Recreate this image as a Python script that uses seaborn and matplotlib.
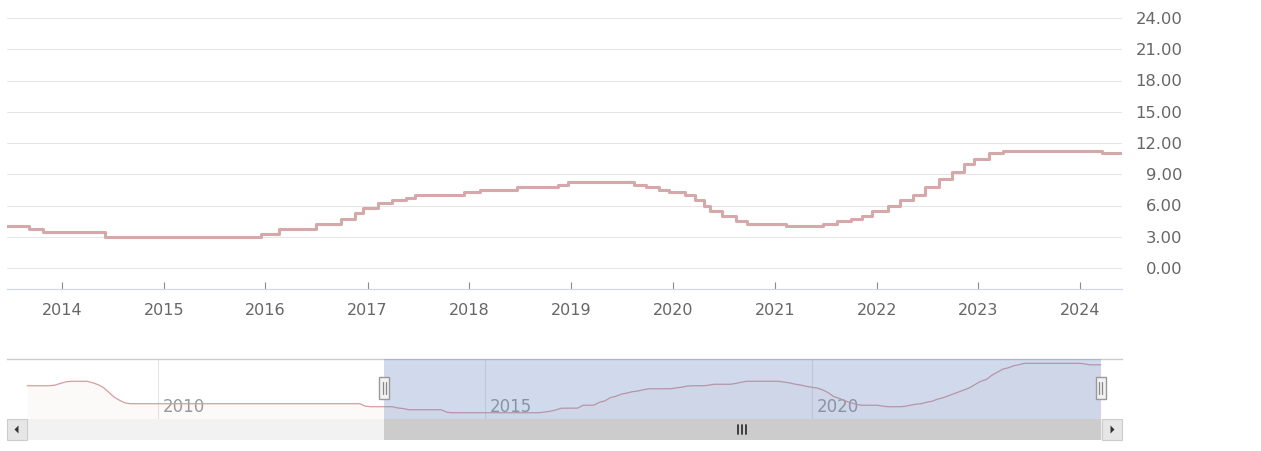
import numpy as np
import pandas as pd
import matplotlib
matplotlib.use("Agg")
import matplotlib.pyplot as plt
import matplotlib.dates as mdates
import matplotlib.transforms as mtrans
from matplotlib.patches import Rectangle, Polygon
import seaborn as sns

# ---------------- data (policy rate, % ; step changes) ----------------
change_dates = [
    "2008-01-01", "2008-06-20", "2008-07-18", "2008-08-15", "2009-01-16",
    "2009-02-20", "2009-03-20", "2009-04-17", "2009-05-15", "2009-06-19",
    "2009-07-17", "2013-03-08", "2013-09-06", "2013-10-25", "2014-06-06",
    "2015-12-17", "2016-02-17", "2016-06-30", "2016-09-29", "2016-11-17",
    "2016-12-15", "2017-02-09", "2017-03-30", "2017-05-18", "2017-06-22",
    "2017-12-14", "2018-02-08", "2018-06-21", "2018-11-15", "2018-12-20",
    "2019-08-15", "2019-09-26", "2019-11-14", "2019-12-19", "2020-02-13",
    "2020-03-20", "2020-04-21", "2020-05-14", "2020-06-25", "2020-08-13",
    "2020-09-24", "2021-02-11", "2021-06-24", "2021-08-12", "2021-09-30",
    "2021-11-11", "2021-12-16", "2022-02-10", "2022-03-24", "2022-05-12",
    "2022-06-23", "2022-08-11", "2022-09-29", "2022-11-10", "2022-12-15",
    "2023-02-09", "2023-03-30", "2024-03-21", "2024-06-01",
]
rates = [
    7.50, 7.75, 8.00, 8.25, 7.75,
    7.50, 6.75, 6.00, 5.25, 4.75,
    4.50, 4.00, 3.75, 3.50, 3.00,
    3.25, 3.75, 4.25, 4.75, 5.25,
    5.75, 6.25, 6.50, 6.75, 7.00,
    7.25, 7.50, 7.75, 8.00, 8.25,
    8.00, 7.75, 7.50, 7.25, 7.00,
    6.50, 6.00, 5.50, 5.00, 4.50,
    4.25, 4.00, 4.25, 4.50, 4.75,
    5.00, 5.50, 6.00, 6.50, 7.00,
    7.75, 8.50, 9.25, 10.00, 10.50,
    11.00, 11.25, 11.00, 11.00,
]
main_year_ticks = list(range(2014, 2025))
nav_year_ticks = [2010, 2015, 2020]
y_ticks = [0, 3, 6, 9, 12, 15, 18, 21, 24]

# ---------------- style ----------------
sns.set_style("white")
plt.rcParams['font.family'] = ['DejaVu Sans']

LINE = "#d5a9a9"
NAV_LINE = "#d99c9c"
LABEL = "#666666"
GRID = "#e6e6e6"
AXIS = "#ccd6eb"

W, H = 1261, 451
fig = plt.figure(figsize=(W / 100, H / 100), dpi=100)
fig.patch.set_facecolor("white")


def rect(l, t, r, b):
    return [l / W, 1 - b / H, (r - l) / W, (b - t) / H]


df = pd.DataFrame({"date": pd.to_datetime(change_dates), "rate": rates})

main_start = pd.Timestamp("2013-06-18")
main_end = pd.Timestamp("2024-05-30")
nav_start = pd.Timestamp("2007-09-10")
nav_end = pd.Timestamp("2024-09-27")

# ---------------- main chart ----------------
ax = fig.add_axes(rect(7, 18, 1122, 289))
sns.lineplot(data=df, x="date", y="rate", drawstyle="steps-post", color=LINE,
             lw=2.2, estimator=None, ax=ax, zorder=3)
ax.set_xlim(main_start, main_end)
ax.set_ylim(-2.016, 24)
ax.set_xlabel("")
ax.set_ylabel("")
for s in ["top", "left", "right"]:
    ax.spines[s].set_visible(False)
ax.spines["bottom"].set_color(AXIS)
ax.spines["bottom"].set_linewidth(0.8)

ax.set_yticks(y_ticks)
ax.set_yticklabels([f"{v:.2f}" for v in y_ticks])
ax.yaxis.tick_right()
ax.tick_params(axis="y", length=0, pad=43.5, labelsize=11.8, labelcolor=LABEL)
for lab in ax.get_yticklabels():
    lab.set_horizontalalignment("right")
ax.grid(axis="y", color=GRID, lw=0.75)
ax.grid(axis="x", visible=False)

ax.set_xticks([pd.Timestamp(f"{y}-01-01") for y in main_year_ticks])
ax.set_xticklabels([str(y) for y in main_year_ticks])
ax.tick_params(axis="x", direction="in", length=5, width=0.8, color="#8a8a8a",
               pad=10, labelsize=11.5, labelcolor=LABEL, bottom=True)

# ---------------- navigator ----------------
nav = fig.add_axes(rect(7, 359, 1122, 419))
daily = pd.Series(rates, index=pd.to_datetime(change_dates)).resample("D").ffill()
monthly = daily.resample("MS").mean().reset_index()
monthly.columns = ["date", "rate"]
nav.fill_between(monthly["date"], monthly["rate"], 0, color=NAV_LINE, alpha=0.06,
                 lw=0, zorder=1)
sns.lineplot(data=monthly, x="date", y="rate", color=NAV_LINE, lw=0.9,
             estimator=None, ax=nav, zorder=2)
nav.set_xlim(nav_start, nav_end)
nav.set_ylim(1.95, 11.97)
nav.set_xlabel("")
nav.set_ylabel("")
nav.set_xticks([])
nav.set_yticks([])
for s in ["bottom", "left", "right"]:
    nav.spines[s].set_visible(False)
nav.spines["top"].set_color("#cccccc")
nav.spines["top"].set_linewidth(1.0)

trans = mtrans.blended_transform_factory(nav.transData, nav.transAxes)
trans_txt = mtrans.offset_copy(trans, fig=fig, x=5, y=0, units="dots")
for y in nav_year_ticks:
    d = pd.Timestamp(f"{y}-01-01")
    nav.axvline(d, color=GRID, lw=0.8, zorder=0.5)
    nav.text(d, 0.2, str(y), transform=trans_txt, ha="left", va="center",
             color="#999999", fontsize=12, zorder=1.5)

nav.axvspan(main_start, main_end, color="#6685c2", alpha=0.3, lw=0, zorder=4)

# ---------------- scrollbar & handles (pixel overlay) ----------------
ov = fig.add_axes([0, 0, 1, 1], zorder=10)
ov.set_xlim(0, W)
ov.set_ylim(H, 0)
ov.axis("off")
ov.patch.set_alpha(0)

n0, n1 = mdates.date2num(nav_start), mdates.date2num(nav_end)


def nav_px(d):
    return 7 + (mdates.date2num(d) - n0) / (n1 - n0) * 1115


hx0, hx1 = nav_px(main_start), nav_px(main_end)

ov.add_patch(Rectangle((7, 419), 1115, 21, fc="#f2f2f2", ec="none"))
ov.add_patch(Rectangle((hx0, 419), hx1 - hx0, 21, fc="#cccccc", ec="none"))
ov.add_patch(Rectangle((7, 419), 20, 21, fc="#e6e6e6", ec="#cccccc", lw=0.8))
ov.add_patch(Rectangle((1102, 419), 20, 21, fc="#e6e6e6", ec="#cccccc", lw=0.8))
ov.add_patch(Polygon([[14.5, 429.5], [18.5, 425.5], [18.5, 433.5]], closed=True,
                     fc="#333333", ec="none"))
ov.add_patch(Polygon([[1114.5, 429.5], [1110.5, 425.5], [1110.5, 433.5]], closed=True,
                     fc="#333333", ec="none"))
gx = (hx0 + hx1) / 2
for dx in (-4, 0, 4):
    ov.plot([gx + dx, gx + dx], [425, 434], color="#333333", lw=1.3)

for hx in (hx0, hx1):
    ov.add_patch(Rectangle((hx - 5, 377), 10, 22, fc="#f2f2f2", ec="#999999", lw=1.0))
    for dx in (-1.5, 1.5):
        ov.plot([hx + dx, hx + dx], [382, 394], color="#888888", lw=0.9)

fig.savefig("out.png", dpi=100, facecolor="white")
